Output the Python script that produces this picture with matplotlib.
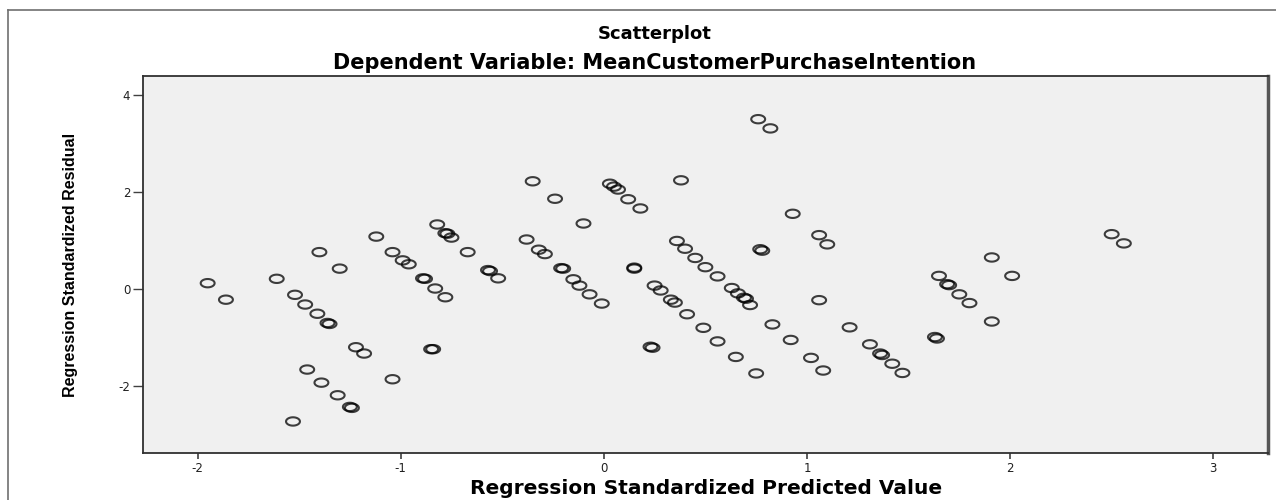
import numpy as np
import matplotlib
matplotlib.use("Agg")
from matplotlib import pyplot as plt
from matplotlib.path import Path
from matplotlib.lines import Line2D

plt.rcParams["axes.unicode_minus"] = False

# predicted value (x) and residual (y)
pred = [-1.95, -1.86, -1.61, -1.40, -1.30, -1.52, -1.47, -1.41, -1.36, -1.35,
        -1.22, -1.18, -1.46, -1.39, -1.31, -1.25, -1.24, -1.53, -1.04, -0.85,
        -0.84, -1.12, -1.04, -0.99, -0.96, -0.89, -0.88, -0.83, -0.78, -0.67,
        -0.57, -0.56, -0.52, -0.82, -0.78, -0.77, -0.75,
        -0.35, -0.24, -0.10, -0.38, -0.32, -0.29, -0.21, -0.20, -0.15, -0.12,
        -0.07, -0.01, 0.03, 0.05, 0.07, 0.12, 0.18, 0.38, 0.36, 0.40, 0.45,
        0.50, 0.56, 0.15, 0.15, 0.25, 0.28, 0.33, 0.35, 0.41, 0.49, 0.56, 0.65,
        0.75, 0.23, 0.24, 0.63, 0.66, 0.69, 0.70, 0.72, 0.77, 0.78, 0.83, 0.92,
        1.02, 1.08, 0.76, 0.82, 0.93, 1.06, 1.10, 1.06,
        2.50, 2.56, 1.91, 2.01, 1.65, 1.69, 1.70, 1.75, 1.80, 1.91, 1.21, 1.31,
        1.36, 1.37, 1.42, 1.47, 1.63, 1.64]
resid = [0.12, -0.22, 0.21, 0.76, 0.42, -0.12, -0.32, -0.51, -0.70, -0.72,
         -1.20, -1.33, -1.66, -1.93, -2.19, -2.43, -2.45, -2.73, -1.86, -1.24,
         -1.24, 1.08, 0.76, 0.59, 0.51, 0.22, 0.21, 0.01, -0.17, 0.76,
         0.39, 0.37, 0.22, 1.33, 1.15, 1.14, 1.06,
         2.22, 1.86, 1.35, 1.02, 0.81, 0.72, 0.43, 0.42, 0.20, 0.07,
         -0.11, -0.30, 2.17, 2.11, 2.05, 1.85, 1.66, 2.24, 0.99, 0.83, 0.64,
         0.45, 0.26, 0.44, 0.42, 0.07, -0.03, -0.22, -0.28, -0.52, -0.80, -1.08, -1.40,
         -1.74, -1.19, -1.21, 0.02, -0.09, -0.18, -0.20, -0.33, 0.82, 0.79, -0.73, -1.05,
         -1.42, -1.68, 3.50, 3.31, 1.55, 1.11, 0.92, -0.23,
         1.13, 0.94, 0.65, 0.27, 0.27, 0.10, 0.08, -0.11, -0.29, -0.67, -0.79, -1.14,
         -1.33, -1.36, -1.54, -1.73, -0.99, -1.02]

xticks = [-2, -1, 0, 1, 2, 3]
yticks = [-2, 0, 2, 4]

fig = plt.figure(figsize=(12.76, 5.0), dpi=100)
fig.patch.set_facecolor("white")

# outer frame of the output pane (only top and left edges are visible)
fig.add_artist(Line2D([0.0063, 0.0063], [0.0, 0.98], transform=fig.transFigure,
                      color="#707070", lw=1.2))
fig.add_artist(Line2D([0.0063, 1.0], [0.98, 0.98], transform=fig.transFigure,
                      color="#707070", lw=1.2))

ax = fig.add_axes([0.1118, 0.094, 0.882, 0.754])
ax.set_facecolor("#f0f0f0")

# flattened ring marker (the original chart was stretched sideways)
t = np.linspace(0, 2 * np.pi, 60)
ring = Path(np.column_stack([np.cos(t), 0.6 * np.sin(t)]), closed=True)

ax.scatter(pred, resid, s=100, marker=ring, facecolors="none",
           edgecolors="black", linewidths=1.5, alpha=0.75, zorder=3)

ax.set_xlim(-2.27, 3.27)
ax.set_ylim(-3.38, 4.39)
ax.set_xticks(xticks)
ax.set_yticks(yticks)
ax.tick_params(axis="x", length=4.5, width=1.2, color="#404040", labelsize=8.5,
               pad=2, labelcolor="#202020")
ax.tick_params(axis="y", length=7, width=1.0, color="#404040", labelsize=8.5,
               pad=2, labelcolor="#202020")
for side in ["left", "bottom", "top"]:
    ax.spines[side].set_color("#303030")
    ax.spines[side].set_linewidth(1.3)
ax.spines["right"].set_color("#555555")
ax.spines["right"].set_linewidth(2.5)

fig.text(0.513, 0.932, "Scatterplot", ha="center", va="center",
         fontsize=13, fontweight="bold", family="DejaVu Sans")
fig.text(0.513, 0.874, "Dependent Variable: MeanCustomerPurchaseIntention",
         ha="center", va="center", fontsize=15, fontweight="bold",
         family="DejaVu Sans")
fig.text(0.5535, 0.022, "Regression Standardized Predicted Value",
         ha="center", va="center", fontsize=14.5, fontweight="bold",
         family="DejaVu Sans")
fig.text(0.055, 0.471, "Regression Standardized Residual", ha="center",
         va="center", rotation=90, fontsize=11.5, fontweight="bold",
         family=["Liberation Sans", "DejaVu Sans"])

fig.savefig("out.png", dpi=100)
